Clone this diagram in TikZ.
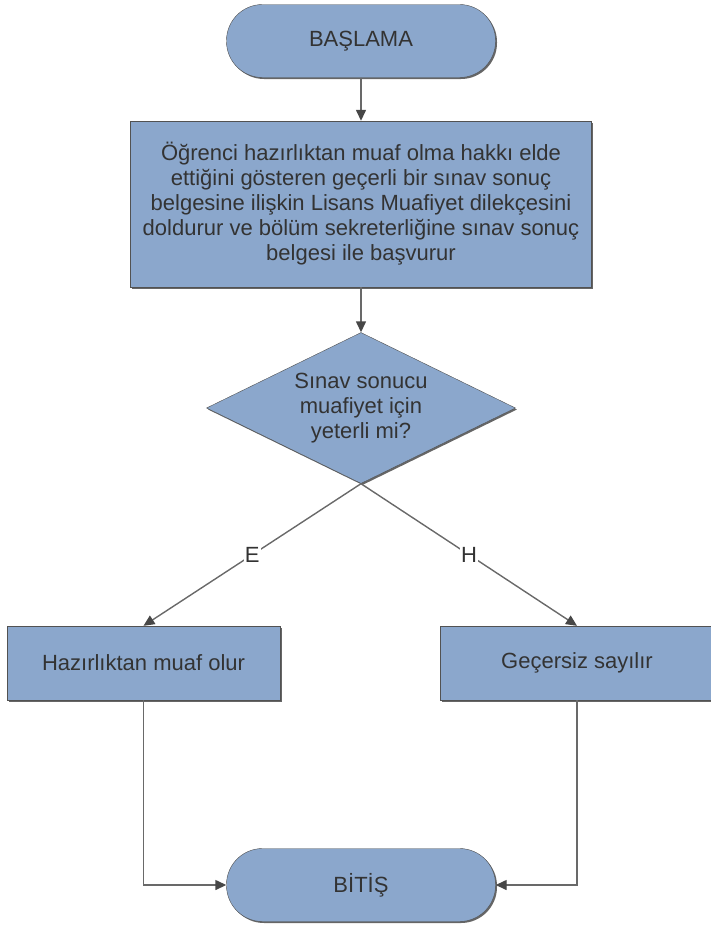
\documentclass[tikz,border=0pt]{standalone}
\usepackage{fontspec}
\setmainfont{Liberation Sans}
\usetikzlibrary{shapes.geometric,arrows.meta,shadows}

\definecolor{kutumavi}{RGB}{139,167,204}
\definecolor{yazi}{RGB}{51,51,51}
\definecolor{cizgi}{RGB}{105,105,105}

\begin{document}
\begin{tikzpicture}[x=1pt, y=-1pt,
        font=\fontsize{22}{25}\selectfont,
        kutu/.style={draw=yazi!85, fill=kutumavi, text=yazi, align=center,
            drop shadow={shadow xshift=1.5pt, shadow yshift=-1.5pt, fill=black!75, opacity=0.8}},
        uc/.style={kutu, rectangle, rounded corners=36pt, minimum width=269pt, minimum height=73pt},
        islem/.style={kutu, rectangle, minimum width=273pt, minimum height=74pt},
        karar/.style={kutu, diamond, aspect=2.05, minimum width=309pt, minimum height=151pt, inner sep=0pt},
        ok/.style={draw=cizgi, line width=1.4pt, -{Triangle[length=11pt, width=10pt, color=yazi!90]}},
        etiket/.style={fill=white, text=yazi, inner sep=1pt}]
        \useasboundingbox (0,0) rectangle (711,926);
        \node[uc] (basla) at (361,41) {BAŞLAMA};
        \node[islem, minimum width=461pt, minimum height=166pt] (basvuru) at (361,204) {Öğrenci hazırlıktan muaf olma hakkı elde\\
            ettiğini gösteren geçerli bir sınav sonuç\\
            belgesine ilişkin Lisans Muafiyet dilekçesini\\
            doldurur ve bölüm sekreterliğine sınav sonuç\\
            belgesi ile başvurur};
        \node[karar] (sinav) at (361,408) {Sınav sonucu\\muafiyet için\\yeterli mi?};
        \node[islem] (muaf) at (143.5,663) {Hazırlıktan muaf olur};
        \node[islem] (gecersiz) at (577,663) {Geçersiz sayılır};
        \node[uc] (bitis) at (361,885) {BİTİŞ};

        \draw[ok] (basla) -- (basvuru);
        \draw[ok] (basvuru) -- (sinav);
        \draw[ok] (sinav.south) -- node[etiket] {E} (muaf.north);
        \draw[ok] (sinav.south) -- node[etiket] {H} (gecersiz.north);
        \draw[ok] (muaf.south) |- (bitis.west);
        \draw[ok] (gecersiz.south) |- (bitis.east);
    \end{tikzpicture}
\end{document}
